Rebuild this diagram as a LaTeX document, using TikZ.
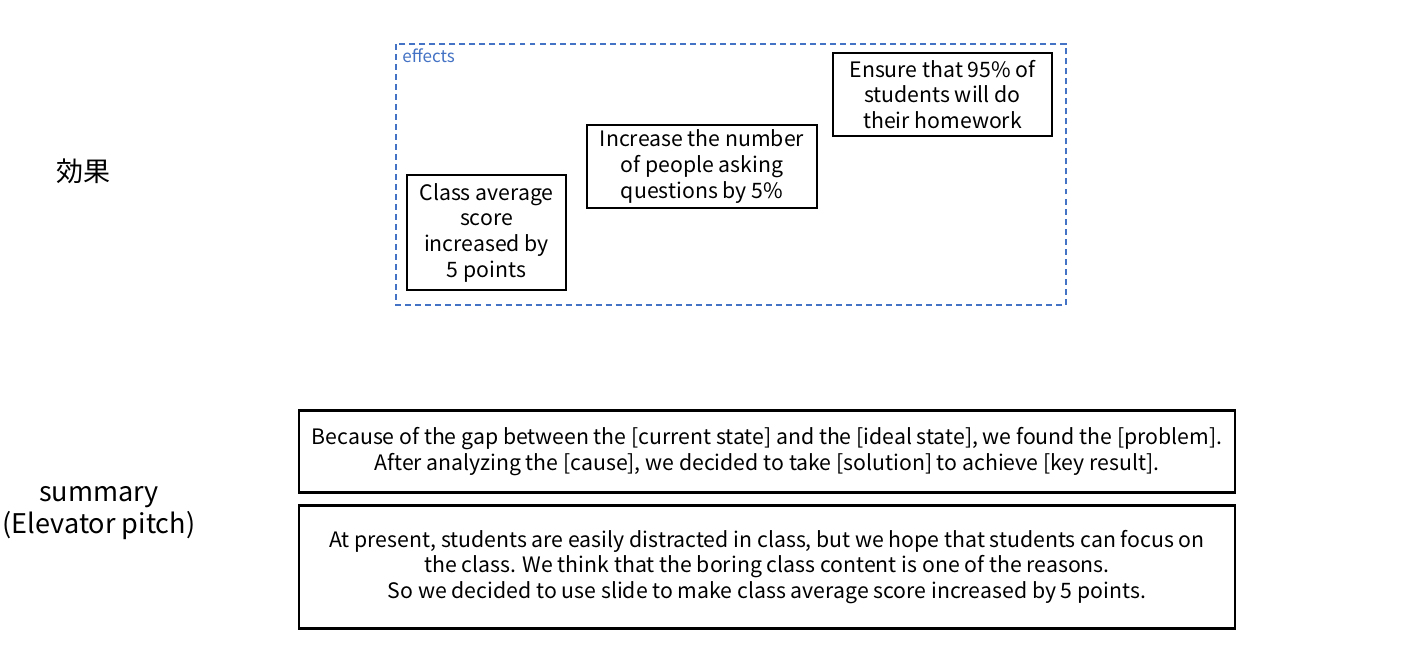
\documentclass[tikz,border=0pt]{standalone}
\usepackage{fontspec}
\setmainfont{Noto Sans CJK JP}
\definecolor{effblue}{HTML}{4472C4}
\tikzset{
  box/.style={draw, line width=1.2pt, align=center, inner sep=0pt,
    font=\fontsize{12.1}{14.6}\selectfont},
  label/.style={align=center, font=\fontsize{15.4}{18}\selectfont}
}
\begin{document}
\begin{tikzpicture}[x=0.02cm, y=-0.02cm]
                \useasboundingbox (0,0) rectangle (1421,656);

                \draw[effblue, line width=1.2pt, dash pattern=on 3.4pt off 2.3pt] (396,44) rectangle (1066,305);
                \node[anchor=north west, inner sep=0pt, text=effblue, font=\fontsize{9.7}{11}\selectfont] (eff) at (402,48) {effects};

                \node[box, minimum width=159*0.02cm, minimum height=115*0.02cm] (score) at (486.5,232.5) {Class average\\score\\increased by\\5 points};
                \node[box, minimum width=230*0.02cm, minimum height=83*0.02cm] (ask) at (702,166.5) {Increase the number\\of people asking\\questions by 5\%};
                \node[box, minimum width=219*0.02cm, minimum height=83*0.02cm] (hw) at (942.5,94.5) {Ensure that 95\% of\\students will do\\their homework};

                \node[label] (kouka) at (84,171) {効果};
                \node[label] (summary) at (99,513) {summary\\(Elevator pitch)};

                \node[box, minimum width=936*0.02cm, minimum height=82*0.02cm] (tmpl) at (767,451.5) {Because of the gap between the [current state] and the [ideal state], we found the [problem].\\After analyzing the [cause], we decided to take [solution] to achieve [key result].};
                \node[box, minimum width=936*0.02cm, minimum height=123*0.02cm] (pitch) at (767,567) {At present, students are easily distracted in class, but we hope that students can focus on\\the class. We think that the boring class content is one of the reasons.\\So we decided to use slide to make class average score increased by 5 points.};
            \end{tikzpicture}
\end{document}
